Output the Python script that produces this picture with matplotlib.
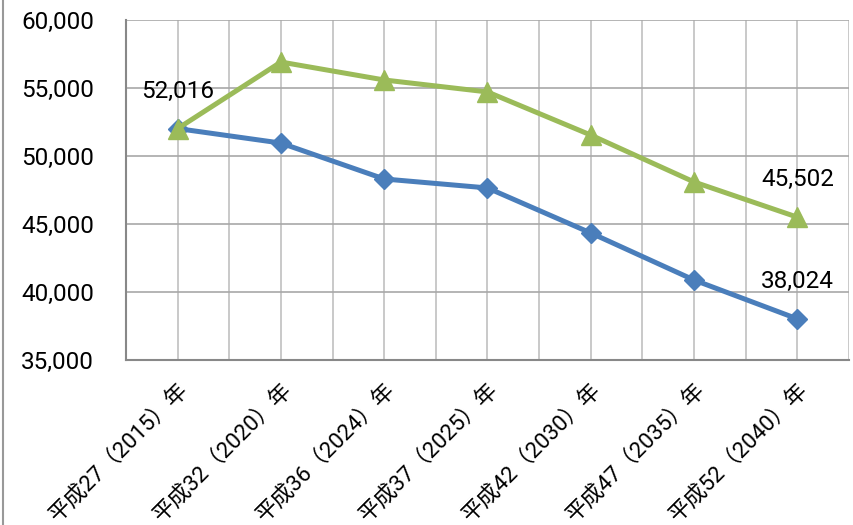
import matplotlib
matplotlib.use("Agg")
import matplotlib.pyplot as plt
from matplotlib.ticker import FuncFormatter
from matplotlib.lines import Line2D
from matplotlib.transforms import ScaledTranslation

categories = ["平成27（2015）年", "平成32（2020）年", "平成36（2024）年", "平成37（2025）年",
              "平成42（2030）年", "平成47（2035）年", "平成52（2040）年"]
blue_values = [52016, 50950, 48310, 47650, 44340, 40880, 38024]
green_values = [52016, 56910, 55590, 54710, 51540, 48090, 45502]
y_ticks = [35000, 40000, 45000, 50000, 55000, 60000]

FAM = ["Roboto", "Noto Sans CJK JP", "DejaVu Sans"]
plt.rcParams['font.family'] = FAM

fig = plt.figure(figsize=(8.54, 5.25), dpi=100)
ax = fig.add_axes([126/854, 1-360/525, (849-126)/854, (360-20)/525])

x = list(range(len(categories)))
ax.plot(x, blue_values, color="#4a7ebb", lw=3.6, marker="D", ms=10, zorder=3)
ax.plot(x, green_values, color="#9bbb59", lw=3.6, marker="^", ms=14, zorder=4)

ax.set_xlim(-0.5, len(categories) - 0.5)
ax.set_ylim(35000, 60000)
ax.set_yticks(y_ticks)
ax.yaxis.set_major_formatter(FuncFormatter(lambda v, p: f"{int(v):,}"))
ax.set_xticks(x)
ax.set_xticks([i + 0.5 for i in range(-1, len(categories))], minor=True)
ax.set_xticklabels(categories, rotation=45, ha="right", va="top", rotation_mode="anchor",
                   fontsize=16)
off = ScaledTranslation(-8/100, -5/100, fig.dpi_scale_trans)
for lab in ax.get_xticklabels():
    lab.set_family(FAM)
    lab.set_transform(lab.get_transform() + off)
ax.tick_params(axis="y", labelsize=17.5, length=0, pad=23)
ax.tick_params(axis="x", which="both", length=0, pad=14)
ax.grid(True, which="both", axis="x", color="#c0c0c0", lw=1.2)
ax.grid(True, which="major", axis="y", color="#a8a8a8", lw=1.2)
for s in ["top", "right"]:
    ax.spines[s].set_visible(False)
ax.spines["left"].set_color("#888888")
ax.spines["bottom"].set_color("#888888")
ax.spines["left"].set_linewidth(1.5)
ax.spines["bottom"].set_linewidth(1.5)

ax.annotate(f"{blue_values[0]:,}", (0, blue_values[0]), xytext=(0, 27), textcoords="offset points",
            ha="center", va="center", fontsize=17.5)
ax.annotate(f"{green_values[-1]:,}", (6, green_values[-1]), xytext=(0, 27), textcoords="offset points",
            ha="center", va="center", fontsize=17.5)
ax.annotate(f"{blue_values[-1]:,}", (6, blue_values[-1]), xytext=(0, 27), textcoords="offset points",
            ha="center", va="center", fontsize=17.5)

fig.add_artist(Line2D([3/854, 3/854], [0, 1], color="#999999", lw=1.5))

fig.savefig("out.png", dpi=100)
